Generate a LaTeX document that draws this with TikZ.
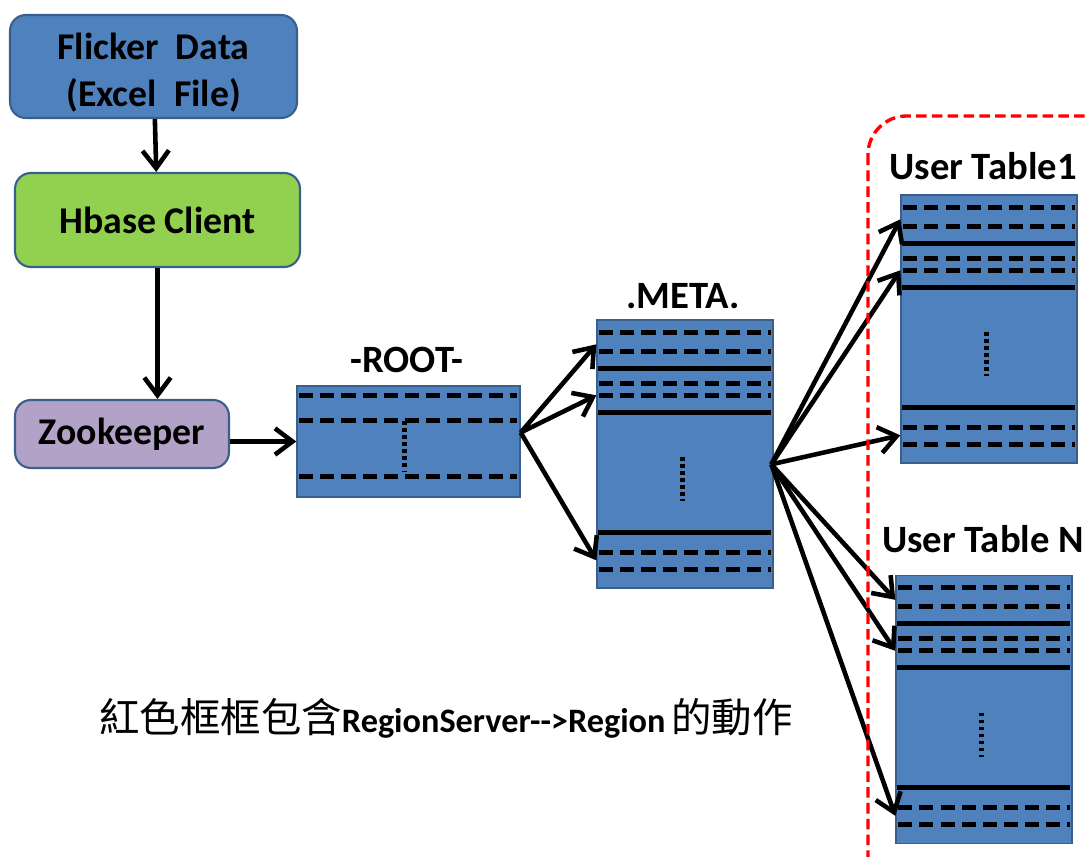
\documentclass[tikz,border=0pt]{standalone}
\usepackage{fontspec}
\setmainfont{Carlito}
\newfontfamily\cjk{Noto Sans CJK TC}
\usetikzlibrary{arrows.meta}
\definecolor{tblue}{HTML}{4F81BD}
\definecolor{boxline}{HTML}{3A5F8B}
\definecolor{cgreen}{HTML}{92D050}
\definecolor{cpurple}{HTML}{B3A2C7}
\tikzset{
  flow/.style={draw=boxline, line width=1.2pt, rounded corners=9pt, align=center, inner sep=0pt,
    font=\bfseries\fontsize{21.5}{27}\selectfont},
  tbl/.style={draw=boxline, fill=tblue, line width=0.8pt, inner sep=0pt, minimum width=3.52cm, minimum height=5.36cm},
  row/.style={line width=3pt, dash pattern=on 8pt off 4pt},
  sep/.style={line width=2.8pt},
  dots/.style={line width=2.6pt, dash pattern=on 2pt off 2pt},
  arr/.style={-{Straight Barb[length=10pt,width=15pt]}, line width=2.6pt},
  title/.style={font=\bfseries\fontsize{22}{24}\selectfont}
}
\begin{document}
\begin{tikzpicture}[x=0.02cm, y=-0.02cm]
  \useasboundingbox (0,0) rectangle (1087,857);
  \clip (0,0) rectangle (1087,857);

  % client side
  \node[flow, fill=tblue, minimum width=5.74cm, minimum height=2.06cm] (flicker) at (153.5,66.5) {\rule{0pt}{22pt}Flicker\ \ Data\\(Excel\ \ File)};
  \node[flow, fill=cgreen, minimum width=5.7cm, minimum height=1.88cm] (hbase) at (157.5,220) {Hbase Client};
  \node[flow, fill=cpurple, minimum width=4.28cm, minimum height=1.36cm] (zoo) at (122,434) {Zookeeper};

  % tables
  \node[tbl, minimum width=4.46cm, minimum height=2.22cm] (root) at (408.5,441.5) {};
  \node[tbl] (meta) at (685,454) {};
  \node[tbl] (ut1) at (989,329) {};
  \node[tbl] (utn) at (984,709.5) {};

  \node[title] (rootlbl) at (407,360) {-ROOT-};
  \node[title] (metalbl) at (683,296) {.META.};
  \node[title] (ut1lbl) at (983,166) {User Table1};
  \node[title] (utnlbl) at (983,539) {User Table N};

  \begin{scope}[shift={(root.north west)}]
    \foreach \d in {10,35,91}
      \draw[row] (3,\d) -- (221,\d);
    \draw[dots] (108,36) -- (108,87);
  \end{scope}
  \foreach \t in {meta,ut1,utn}{
    \begin{scope}[shift={(\t.north west)}]
      \foreach \d in {13,32,64,76,233,250}
        \draw[row] (3,\d) -- (175,\d);
      \foreach \d in {49,93,213}
        \draw[sep] (2,\d) -- (175,\d);
      \draw[dots] (86,138) -- (86,182);
      \coordinate (\t-1) at (0,25);
      \coordinate (\t-2) at (0,76);
      \coordinate (\t-3) at (0,241);
      \coordinate (\t-out) at (175,145);
    \end{scope}
  }

  % connectors
  \draw[arr] (flicker) -- (hbase);
  \draw[arr] (hbase.south) -- (hbase.south |- zoo.north);
  \draw[arr] (zoo.east |- root.west) -- (root.west);
  \foreach \n in {1,2,3}
    \draw[arr] ([yshift=0.18cm]root.east) -- (meta-\n);
  \foreach \n in {1,2,3}{
    \draw[arr] (meta-out) -- (ut1-\n);
    \draw[arr] (meta-out) -- (utn-\n);
  }

  \draw[red, line width=1.9pt, dash pattern=on 6pt off 3pt, rounded corners=22pt] (868,116) rectangle (1130,900);

  \node[font=\bfseries\fontsize{19.5}{22}\selectfont] (note) at (446,718)
    {{\cjk\mdseries\fontsize{23}{24}\selectfont 紅色框框包含}RegionServer-{}-{}>Region\,{\cjk\mdseries\fontsize{23}{24}\selectfont 的動作}};
\end{tikzpicture}
\end{document}
